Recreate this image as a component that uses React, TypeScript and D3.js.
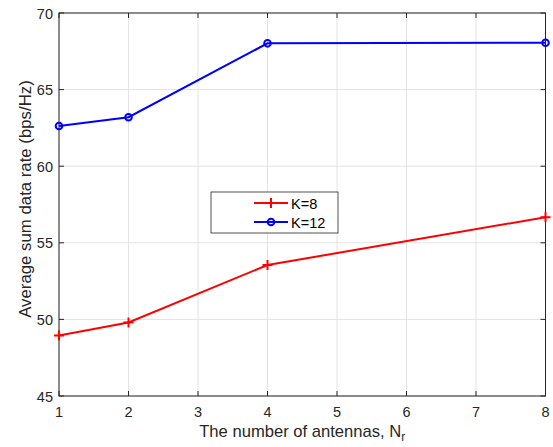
import React from "react";
import * as d3 from "d3";

const xValues = [1, 2, 4, 8];
const seriesK8 = [48.95, 49.8, 53.55, 56.67];
const seriesK12 = [62.62, 63.2, 68.02, 68.06];
const xTicks = [1, 2, 3, 4, 5, 6, 7, 8];
const yTicks = [45, 50, 55, 60, 65, 70];
const legendLabels = ["K=8", "K=12"];

const W = 553, H = 447;
const M = { left: 59, right: 545.5, top: 13, bottom: 396 };
const FONT = "Helvetica, Arial, 'Liberation Sans', sans-serif";

export default function App() {
  const x = d3.scaleLinear().domain([1, 8]).range([M.left, M.right]);
  const y = d3.scaleLinear().domain([45, 70]).range([M.bottom, M.top]);
  const line = d3.line<number>().x((_, i) => x(xValues[i])).y((d) => y(d));
  const axisColor = "#262626";
  const gridColor = "#e3e3e3";
  const tickLen = 5;
  const tickFont = 14.5;

  return (
    <svg width={W} height={H} style={{ position: "absolute", left: 0, top: 0, background: "#fff" }} fontFamily={FONT}>
      <rect x={0} y={0} width={W} height={H} fill="#fff" />
      {xTicks.map((t) => (
        <line key={"gx" + t} x1={x(t)} x2={x(t)} y1={M.top} y2={M.bottom} stroke={gridColor} strokeWidth={1} />
      ))}
      {yTicks.map((t) => (
        <line key={"gy" + t} x1={M.left} x2={M.right} y1={y(t)} y2={y(t)} stroke={gridColor} strokeWidth={1} />
      ))}
      {xTicks.map((t) => (
        <g key={"tx" + t}>
          <line x1={x(t)} x2={x(t)} y1={M.bottom} y2={M.bottom - tickLen} stroke={axisColor} />
          <line x1={x(t)} x2={x(t)} y1={M.top} y2={M.top + tickLen} stroke={axisColor} />
          <text x={x(t)} y={M.bottom + 20.5} textAnchor="middle" fontSize={tickFont} fill={axisColor}>{t}</text>
        </g>
      ))}
      {yTicks.map((t) => (
        <g key={"ty" + t}>
          <line x1={M.left} x2={M.left + tickLen} y1={y(t)} y2={y(t)} stroke={axisColor} />
          <line x1={M.right} x2={M.right - tickLen} y1={y(t)} y2={y(t)} stroke={axisColor} />
          <text x={M.left - 6} y={y(t) + 5.5} textAnchor="end" fontSize={tickFont} fill={axisColor}>{t}</text>
        </g>
      ))}
      <rect x={M.left} y={M.top} width={M.right - M.left} height={M.bottom - M.top} fill="none" stroke={axisColor} strokeWidth={1} />
      <path d={line(seriesK8) || ""} fill="none" stroke="#ff0000" strokeWidth={2} />
      {seriesK8.map((v, i) => (
        <g key={"m8" + i} stroke="#ff0000" strokeWidth={2}>
          <line x1={x(xValues[i]) - 5} x2={x(xValues[i]) + 5} y1={y(v)} y2={y(v)} />
          <line x1={x(xValues[i])} x2={x(xValues[i])} y1={y(v) - 5} y2={y(v) + 5} />
        </g>
      ))}
      <path d={line(seriesK12) || ""} fill="none" stroke="#0000ff" strokeWidth={2} />
      {seriesK12.map((v, i) => (
        <circle key={"m12" + i} cx={x(xValues[i])} cy={y(v)} r={3.3} fill="none" stroke="#0000ff" strokeWidth={2} />
      ))}
      <rect x={211} y={192} width={127} height={41} fill="#fff" stroke="#262626" strokeWidth={0.8} />
      <g>
        <line x1={254} x2={288} y1={203} y2={203} stroke="#ff0000" strokeWidth={2} />
        <line x1={271} x2={271} y1={198} y2={208} stroke="#ff0000" strokeWidth={2} />
        <text x={291} y={208.5} fontSize={14.5} fill="#000">{legendLabels[0]}</text>
        <line x1={254} x2={288} y1={222} y2={222} stroke="#0000ff" strokeWidth={2} />
        <circle cx={271} cy={222} r={3.3} fill="none" stroke="#0000ff" strokeWidth={2} />
        <text x={291} y={227.5} fontSize={14.5} fill="#000">{legendLabels[1]}</text>
      </g>
      <text x={(M.left + M.right) / 2} y={436.5} textAnchor="middle" fontSize={16.6} fill={axisColor}>
        The number of antennas, N<tspan dy={4.5} fontSize={12}>r</tspan>
      </text>
      <text transform={`translate(31, 199) rotate(-90)`} textAnchor="middle" fontSize={16.8} fill={axisColor}>
        Average sum data rate (bps/Hz)
      </text>
    </svg>
  );
}
